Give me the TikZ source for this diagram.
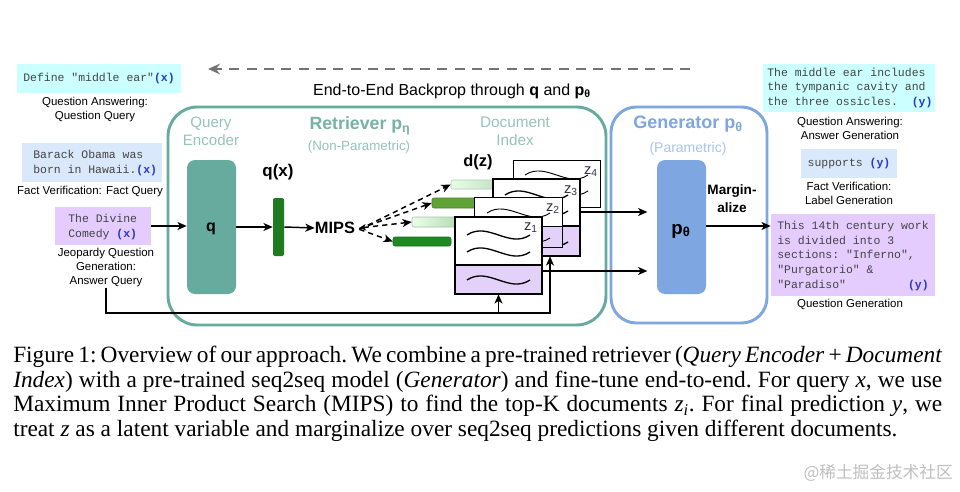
\documentclass[tikz,border=0pt]{standalone}
\usepackage{fontspec}
\setmainfont{Liberation Serif}
\setsansfont{Liberation Sans}
\setmonofont{Liberation Mono}
\newfontfamily\cjkfont{Noto Sans CJK SC}
\usetikzlibrary{fit,arrows.meta}
\definecolor{rtg}{HTML}{67AB9F}
\definecolor{rtgtitle}{HTML}{76B2A5}
\definecolor{rtglight}{HTML}{95C4B9}
\definecolor{gen}{HTML}{7EA6E0}
\definecolor{genlight}{HTML}{A9C4EB}
\definecolor{cyanbox}{HTML}{CCFFFF}
\definecolor{bluebox}{HTML}{DAE8FC}
\definecolor{purpbox}{HTML}{E5CCFF}
\definecolor{docpurp}{HTML}{E3D1FA}
\definecolor{xblue}{HTML}{2838C8}
\definecolor{qxgreen}{HTML}{1E7B1E}
\definecolor{barfour}{HTML}{1F8A24}
\definecolor{bartwo}{HTML}{5FA336}
\definecolor{zlab}{HTML}{333344}
\definecolor{monotext}{HTML}{444444}
\newcommand\wavy[3][]{\draw[line width=1pt,#1] (#2,#3) .. controls +(21,-14) and +(-21,14) .. ++(63,0);}
\newcommand\xx{{\bfseries\color{xblue}(x)}}
\newcommand\yy{{\bfseries\color{xblue}(y)}}
\begin{document}
\begin{tikzpicture}[x=0.75pt,y=-0.75pt,
  lbl/.style={font=\fontsize{8.6}{10.5}\selectfont\sffamily, align=center, inner sep=0pt},
  mono/.style={font=\fontsize{8.6}{10.9}\selectfont\ttfamily, text=monotext, align=left, inner sep=0pt},
  fbox/.style={inner sep=0pt, draw=none},
  arr/.style={line width=1.1pt, -{Stealth[length=7pt,width=6pt,inset=2pt]}},
  dsh/.style={line width=1.1pt, dash pattern=on 4pt off 3pt, -{Stealth[length=7pt,width=6pt,inset=2pt]}},
  bar/.style={inner sep=0pt, rounded corners=1.5pt},
  zl/.style={font=\fontsize{11}{12}\selectfont\sffamily, text=zlab, inner sep=0pt},
]
\fill[white] (0,0) rectangle (960,492);
\useasboundingbox (0,0) rectangle (960,492);

% ---- backprop
\coordinate (bpR) at (690,69);
\coordinate (bpL) at (208,69);
\draw[line width=2pt, draw=black!55, dash pattern=on 7.5pt off 5.5pt, -{Stealth[length=9pt,width=8pt,inset=3pt]}] (bpR) -- (bpL);
\node[font=\fontsize{12}{14}\selectfont\sffamily, inner sep=0] (bptext) at (452,91)
  {End-to-End Backprop through \textbf{q} and \textbf{p}\textsubscript{\bfseries θ}};

% ---- big boxes
\node[fit={(168,107) (606,325)}, inner sep=0pt, draw=rtg, line width=2.2pt, rounded corners=22pt] (retr) {};
\node[fit={(611,107) (767,323)}, inner sep=0pt, draw=gen, line width=2.2pt, rounded corners=19pt] (genr) {};

% ---- retriever content
\node[font=\fontsize{11.3}{13.5}\selectfont\sffamily, text=rtglight, align=center, inner sep=0] (qelab) at (211,131) {Query\\Encoder};
\node[font=\fontsize{13.3}{15}\selectfont\sffamily\bfseries, text=rtgtitle, inner sep=0] (rtitle) at (360,126) {Retriever p\textsubscript{η}};
\node[font=\fontsize{10}{12}\selectfont\sffamily, text=rtglight, inner sep=0] (rsub) at (359,147) {(Non-Parametric)};
\node[font=\fontsize{11.5}{13.5}\selectfont\sffamily, text=rtglight, align=center, inner sep=0] (dilab) at (515,131) {Document\\Index};

\node[fit={(187,160) (236,294)}, inner sep=0pt, fill=rtg, rounded corners=6pt] (qbox) {};
\node[font=\fontsize{12}{14}\selectfont\sffamily\bfseries, inner sep=0] (qlab) at (211,229) {q};

\node[font=\fontsize{12.7}{14}\selectfont\sffamily\bfseries, inner sep=0] (qxlab) at (278,172) {q(x)};
\node[fit={(273,198) (284,256)}, bar, fill=qxgreen] (qxbar) {};
\node[font=\fontsize{12.3}{14}\selectfont\sffamily\bfseries, inner sep=0] (mips) at (335,228) {MIPS};
\node[font=\fontsize{12.3}{14}\selectfont\sffamily\bfseries, inner sep=0] (dzlab) at (478,162) {d(z)};

\draw[arr] (qbox.east) -- (qxbar.west);
\draw[arr] (qxbar.east) -- (mips.west);

% bars
\node[fit={(451,180) (505,189)}, bar, left color=green!10!white, right color=green!45!black!25!white, draw=green!30!black!30] (bar1) {};
\node[fit={(432,198) (490,208)}, bar, fill=bartwo, draw=bartwo!80!black] (bar2) {};
\node[fit={(412,217) (470,227)}, bar, left color=green!8!white, right color=green!50!black!35!white, draw=green!30!black!35] (bar3) {};
\node[fit={(393,237) (451,246)}, bar, fill=barfour, draw=barfour!80!black] (bar4) {};

\coordinate (mr) at ([xshift=3pt]mips.east);
\draw[dsh] ([yshift=-1pt]mr) -- (bar1.west);
\draw[dsh] ([yshift=-0.5pt]mr) -- (bar2.west);
\draw[dsh, {Stealth[length=5pt,width=5pt,inset=1.5pt]}-{Stealth[length=7pt,width=6pt,inset=2pt]}] (mr) -- (bar3.west);
\draw[dsh] ([yshift=-1pt]mr) -- (bar4.west);

% documents
% z4
\node[fit={(513,160) (600,207)}, inner sep=0pt, fill=white, draw, line width=0.75pt] (z4) {};
\wavy[line width=0.7pt]{525}{175}
\wavy[line width=0.7pt]{525}{191}
\node[zl] (z4lab) at (591,172) {z\textsubscript{4}};
% z3
\node[fit={(493,179) (580,256)}, inner sep=0pt, fill=white] (z3) {};
\fill[docpurp] (493,226) rectangle (580,256);
\draw[line width=1.5pt] (z3.south west) rectangle (z3.north east);
\draw[line width=1.5pt] (493,226) -- (580,226);
\wavy{505}{195}
\wavy{505}{211}
\wavy{505}{242}
\node[zl] (z3lab) at (571,191) {z\textsubscript{3}};
% z2
\node[fit={(475,198) (562,247)}, inner sep=0pt, fill=white] (z2) {};
\fill[docpurp] (475,226) rectangle (562,247);
\draw[line width=0.75pt] (z2.south west) rectangle (z2.north east);
\draw[line width=0.75pt] (475,226) -- (562,226);
\wavy[line width=0.7pt]{487}{213}
\wavy[line width=0.7pt]{487}{238}
\node[zl] (z2lab) at (553,209) {z\textsubscript{2}};
% z1
\node[fit={(455,217) (542,294)}, inner sep=0pt, fill=white] (z1) {};
\fill[docpurp] (455,265) rectangle (542,294);
\draw[line width=1.5pt] (z1.south west) rectangle (z1.north east);
\draw[line width=1.5pt] (455,265) -- (542,265);
\wavy{467}{235}
\wavy{467}{252}
\wavy{467}{280}
\node[zl] (z1lab) at (531,228) {z\textsubscript{1}};

% ---- generator content
\node[font=\fontsize{13.5}{15}\selectfont\sffamily\bfseries, text=gen, inner sep=0] (gtitle) at (688,124) {Generator p\textsubscript{θ}};
\node[font=\fontsize{10.5}{12}\selectfont\sffamily, text=genlight, inner sep=0] (gsub) at (688,149) {(Parametric)};
\node[fit={(657,160) (706,294)}, inner sep=0pt, fill=gen, rounded corners=6pt] (pbox) {};
\node[font=\fontsize{14}{16}\selectfont\sffamily\bfseries, inner sep=0] (plab) at (681,231) {p\textsubscript{θ}};
\node[font=\fontsize{10.2}{13.5}\selectfont\sffamily\bfseries, align=center, inner sep=0] (marg) at (732,199) {Margin-\\alize};

\draw[arr, shorten >=7pt] (z3.east |- 0,212) -- (pbox.west |- 0,212);
\draw[arr, shorten >=7pt] (z1.east |- 0,271) -- (pbox.west |- 0,271);

% ---- left inputs
\node[fit={(17,64) (181,93)}, fbox, fill=cyanbox] (b1) {};
\node[mono] (b1t) at (b1.center) {Define "middle ear"\xx};
\node[lbl] (l1) at (95,110) {Question Answering:\\Question Query};

\node[fit={(22,143) (162,182)}, fbox, fill=bluebox] (b2) {};
\node[mono, anchor=west] (b2t) at (33,163) {Barack Obama was\\born in Hawaii.\xx};
\node[lbl] (l2) at (90,192) {Fact Verification: Fact Query};

\node[fit={(55,207) (151,245)}, fbox, fill=purpbox] (b3) {};
\node[mono, anchor=west] (b3t) at (68,227) {The Divine\\Comedy \xx};
\node[lbl] (jl) at (106,268) {Jeopardy Question\\Generation:\\Answer Query};

\draw[arr] (b3.east) -- (b3.east -| qbox.west);

% feedback
\draw[arr, line width=1pt] (jl.south) -- (jl.south |- 0,313) -| (550,0 |- z3.south);
\draw[arr, line width=1pt] (z1.south |- 0,313) -- (z1.south);

% ---- right outputs
\node[fit={(763,64) (935,112)}, fbox, fill=cyanbox] (bA) {};
\node[mono, anchor=west] (bAt) at (767,88) {The middle ear includes\\the tympanic cavity and\\the three ossicles.\hphantom{xx}\yy};
\node[lbl] (lA) at (850,128.5) {Question Answering:\\Answer Generation};

\node[fit={(801,149) (897,178)}, fbox, fill=bluebox] (bB) {};
\node[mono] (bBt) at (bB.center) {supports \yy};
\node[lbl] (lB) at (849,193.5) {Fact Verification:\\Label Generation};

\node[fit={(771,214) (935,296)}, fbox, fill=purpbox] (bC) {};
\node[mono, anchor=west] (bCt) at (777,256) {This 14th century work\\is divided into 3\\sections: "Inferno",\\"Purgatorio" \&\\"Paradiso"\hphantom{xxxxxxxxx}\yy};
\node[lbl] (lC) at (850,304) {Question Generation};

\draw[arr] (pbox.east |- 0,226) -- (bC.west |- 0,226);

% ---- caption
\node[anchor=north west, inner sep=0pt, text width=696.75pt, align=justify,
      font=\fontsize{17.5}{18.4}\selectfont\rmfamily\frenchspacing] (cap) at (13,346)
{Figure 1: Overview of our approach. We combine a pre-trained retriever (\textit{Query Encoder} + \textit{Document}\linebreak
\textit{Index}) with a pre-trained seq2seq model (\textit{Generator}) and fine-tune end-to-end. For query \textit{x}, we use\linebreak
Maximum Inner Product Search (MIPS) to find the top-K documents \textit{z\textsubscript{i}}. For final prediction \textit{y}, we\linebreak
treat \textit{z} as a latent variable and marginalize over seq2seq predictions given different documents.};

% watermark
\node[font=\fontsize{12.5}{14}\selectfont\cjkfont, text=black!25, anchor=east, inner sep=0] (wm) at (953,473) {@稀土掘金技术社区};
\end{tikzpicture}
\end{document}
